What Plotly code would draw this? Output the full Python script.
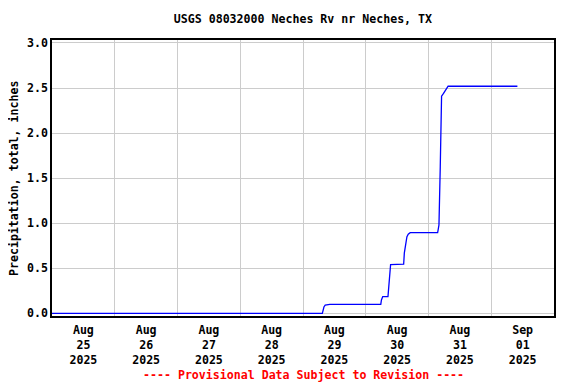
import plotly.graph_objects as go

times = [
    "2025-08-25 00:00", "2025-08-29 07:24", "2025-08-29 08:00", "2025-08-29 08:30",
    "2025-08-29 10:15", "2025-08-30 05:45", "2025-08-30 06:00", "2025-08-30 06:30",
    "2025-08-30 08:30", "2025-08-30 08:45", "2025-08-30 09:00", "2025-08-30 09:30",
    "2025-08-30 14:30", "2025-08-30 14:45", "2025-08-30 15:15", "2025-08-30 15:45",
    "2025-08-30 16:15", "2025-08-30 17:00", "2025-08-31 03:30", "2025-08-31 04:00",
    "2025-08-31 04:30", "2025-08-31 04:45", "2025-08-31 05:00", "2025-08-31 05:45",
    "2025-08-31 06:30", "2025-08-31 07:00", "2025-08-31 07:30", "2025-09-01 10:00",
]
precip = [
    0.0, 0.0, 0.07, 0.09,
    0.10, 0.10, 0.148, 0.185,
    0.185, 0.28, 0.39, 0.54,
    0.545, 0.667, 0.76, 0.85,
    0.878, 0.895, 0.895, 0.98,
    1.63, 2.04, 2.41, 2.44,
    2.47, 2.50, 2.52, 2.52,
]

tick_dates = ["2025-08-25 12:00", "2025-08-26 12:00", "2025-08-27 12:00", "2025-08-28 12:00",
              "2025-08-29 12:00", "2025-08-30 12:00", "2025-08-31 12:00", "2025-09-01 12:00"]
tick_labels = ["Aug<br>25<br>2025", "Aug<br>26<br>2025", "Aug<br>27<br>2025", "Aug<br>28<br>2025",
               "Aug<br>29<br>2025", "Aug<br>30<br>2025", "Aug<br>31<br>2025", "Sep<br>01<br>2025"]
y_ticks = [0.0, 0.5, 1.0, 1.5, 2.0, 2.5, 3.0]

FONT = "DejaVu Sans Mono"
FS = 11.6

fig = go.Figure()
fig.add_trace(go.Scatter(x=times, y=precip, mode="lines",
                         line=dict(color="#0000ff", width=1.3), hoverinfo="skip"))

# page body has an 8px default margin; margins compensate for it
fig.update_layout(
    width=576, height=384,
    margin=dict(l=44, r=30, t=32, b=76, autoexpand=False),
    paper_bgcolor="white", plot_bgcolor="white",
    showlegend=False,
    font=dict(family=FONT, size=FS, color="black", weight="bold"),
    title=dict(text="USGS 08032000 Neches Rv nr Neches, TX", x=0.512, xanchor="center",
               y=0.9714, yanchor="middle",
               font=dict(family=FONT, size=FS, color="black", weight="bold")),
)
fig.update_xaxes(
    type="date", automargin=False,
    range=["2025-08-25 00:00", "2025-09-02 00:00"],
    tickmode="array", tickvals=tick_dates, ticktext=tick_labels,
    showgrid=False, ticks="", tickangle=0, ticklabelstandoff=2,
    tickfont=dict(family=FONT, size=FS, color="black", weight="bold"),
    minor=dict(dtick=86400000, tick0="2025-08-25", showgrid=True, gridcolor="#cccccc",
               gridwidth=1, ticks=""),
    showline=True, linecolor="black", linewidth=1.5, mirror=True,
    zeroline=False,
)
fig.update_yaxes(
    automargin=False,
    range=[-0.03, 3.033],
    tickmode="array", tickvals=y_ticks, ticktext=[f"{v:.1f}" for v in y_ticks],
    showgrid=True, gridcolor="#cccccc", gridwidth=1, ticks="",
    tickfont=dict(family=FONT, size=FS, color="black", weight="bold"),
    showline=True, linecolor="black", linewidth=1.5, mirror=True,
    zeroline=False,
)
fig.add_annotation(text="Precipitation, total, inches", textangle=-90,
                   xref="paper", yref="paper", x=-0.0757, y=0.5, xanchor="center", yanchor="middle",
                   showarrow=False, font=dict(family=FONT, size=FS, color="black", weight="bold"))
fig.add_annotation(text="---- Provisional Data Subject to Revision ----",
                   xref="paper", yref="paper", x=0.5, y=-0.214, xanchor="center", yanchor="middle",
                   showarrow=False, font=dict(family=FONT, size=FS, color="red", weight="bold"))

fig.write_html("out.html")
